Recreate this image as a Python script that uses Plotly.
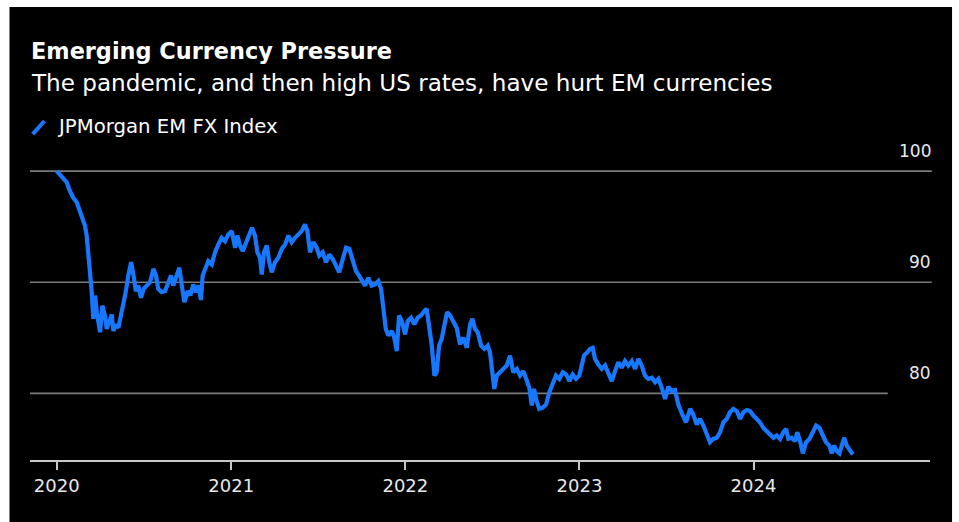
import pandas as pd
import plotly.graph_objects as go

# JPMorgan EM FX Index, sampled roughly weekly; time given as fractional years
year_frac = [
    2020.000, 2020.019, 2020.038, 2020.057, 2020.076, 2020.095, 2020.115, 2020.134,
    2020.153, 2020.162, 2020.172, 2020.181, 2020.191, 2020.201, 2020.210, 2020.220,
    2020.230, 2020.239, 2020.249, 2020.262, 2020.277, 2020.287, 2020.302, 2020.316,
    2020.325, 2020.339, 2020.354, 2020.369, 2020.382, 2020.396, 2020.411, 2020.427,
    2020.440, 2020.454, 2020.468, 2020.484, 2020.499, 2020.517, 2020.536, 2020.555,
    2020.570, 2020.583, 2020.603, 2020.622, 2020.641, 2020.656, 2020.669, 2020.685,
    2020.704, 2020.718, 2020.733, 2020.752, 2020.767, 2020.784, 2020.798, 2020.813,
    2020.828, 2020.838, 2020.851, 2020.870, 2020.890, 2020.909, 2020.928, 2020.947,
    2020.966, 2020.985, 2021.005, 2021.024, 2021.037, 2021.052, 2021.068, 2021.087,
    2021.106, 2021.121, 2021.138, 2021.152, 2021.167, 2021.177, 2021.190, 2021.206,
    2021.220, 2021.234, 2021.253, 2021.272, 2021.292, 2021.311, 2021.330, 2021.349,
    2021.368, 2021.387, 2021.406, 2021.425, 2021.439, 2021.454, 2021.473, 2021.493,
    2021.507, 2021.527, 2021.546, 2021.565, 2021.584, 2021.603, 2021.622, 2021.642,
    2021.661, 2021.680, 2021.699, 2021.718, 2021.731, 2021.751, 2021.770, 2021.789,
    2021.808, 2021.827, 2021.846, 2021.862, 2021.875, 2021.889, 2021.904, 2021.923,
    2021.938, 2021.952, 2021.965, 2021.981, 2022.000, 2022.015, 2022.034, 2022.053,
    2022.072, 2022.091, 2022.110, 2022.124, 2022.137, 2022.153, 2022.168, 2022.181,
    2022.195, 2022.210, 2022.225, 2022.241, 2022.258, 2022.277, 2022.296, 2022.315,
    2022.334, 2022.354, 2022.373, 2022.386, 2022.401, 2022.417, 2022.436, 2022.455,
    2022.474, 2022.487, 2022.497, 2022.512, 2022.526, 2022.545, 2022.564, 2022.583,
    2022.602, 2022.621, 2022.641, 2022.660, 2022.679, 2022.698, 2022.713, 2022.727,
    2022.740, 2022.755, 2022.770, 2022.790, 2022.809, 2022.828, 2022.847, 2022.866,
    2022.885, 2022.905, 2022.924, 2022.943, 2022.962, 2022.981, 2023.000, 2023.014,
    2023.027, 2023.046, 2023.061, 2023.077, 2023.090, 2023.109, 2023.129, 2023.148,
    2023.167, 2023.186, 2023.205, 2023.224, 2023.243, 2023.262, 2023.281, 2023.301,
    2023.320, 2023.339, 2023.358, 2023.377, 2023.396, 2023.416, 2023.435, 2023.454,
    2023.473, 2023.492, 2023.511, 2023.530, 2023.549, 2023.568, 2023.594, 2023.613,
    2023.636, 2023.654, 2023.674, 2023.693, 2023.712, 2023.731, 2023.750, 2023.769,
    2023.789, 2023.808, 2023.827, 2023.846, 2023.865, 2023.884, 2023.904, 2023.923,
    2023.942, 2023.961, 2023.980, 2023.999, 2024.018, 2024.037, 2024.056, 2024.076,
    2024.095, 2024.114, 2024.133, 2024.152, 2024.171, 2024.187, 2024.200, 2024.219,
    2024.238, 2024.251, 2024.267, 2024.283, 2024.302, 2024.321, 2024.340, 2024.359,
    2024.378, 2024.397, 2024.416, 2024.435, 2024.449, 2024.462, 2024.478, 2024.493,
    2024.506, 2024.520, 2024.535, 2024.554, 2024.570,
]

index_value = [
    100.0, 99.7, 99.4, 99.0, 98.2, 97.6, 97.2, 96.3,
    95.5, 95.1, 94.2, 92.7, 90.9, 89.1, 86.7, 88.8,
    87.3, 86.1, 85.5, 87.9, 87.0, 85.8, 86.4, 87.1,
    85.6, 86.2, 85.9, 87.0, 88.2, 89.1, 90.6, 91.8,
    90.7, 89.2, 89.7, 88.6, 89.4, 89.7, 90.0, 91.2,
    90.6, 89.4, 89.1, 89.2, 90.0, 90.6, 89.7, 90.4,
    91.3, 89.7, 88.2, 89.2, 88.8, 89.8, 89.1, 89.7,
    88.4, 90.6, 91.2, 91.9, 91.6, 92.7, 93.4, 94.0,
    93.7, 94.3, 94.6, 93.1, 94.2, 93.3, 92.8, 93.6,
    94.5, 94.9, 94.2, 92.7, 92.2, 90.7, 92.7, 93.3,
    91.8, 90.9, 91.8, 92.2, 93.0, 93.4, 94.2, 93.6,
    94.0, 94.3, 94.6, 95.2, 94.6, 92.7, 93.6, 93.1,
    92.4, 92.7, 91.8, 92.5, 92.1, 91.5, 90.9, 92.1,
    93.1, 93.0, 91.9, 91.0, 90.7, 90.1, 89.7, 90.4,
    89.7, 89.8, 90.1, 89.4, 87.6, 85.8, 85.2, 85.6,
    85.0, 83.8, 87.0, 86.5, 85.3, 86.5, 86.8, 86.2,
    86.8, 87.0, 87.4, 87.6, 86.1, 84.3, 81.6, 81.9,
    84.3, 84.9, 86.1, 87.3, 87.0, 86.5, 85.9, 84.4,
    85.0, 84.1, 86.2, 86.7, 85.8, 85.5, 84.3, 84.0,
    84.3, 83.7, 82.2, 80.4, 81.6, 81.9, 82.3, 82.5,
    83.4, 81.9, 82.2, 81.6, 82.0, 81.1, 80.5, 78.9,
    80.4, 79.3, 78.6, 78.7, 79.0, 80.1, 81.0, 81.6,
    81.3, 81.9, 81.7, 81.1, 81.7, 81.3, 81.6, 82.8,
    83.4, 83.7, 84.0, 84.1, 83.1, 82.6, 82.2, 82.5,
    81.9, 81.1, 82.0, 82.8, 82.3, 82.9, 82.5, 82.9,
    82.2, 83.1, 82.5, 81.6, 81.3, 81.4, 81.0, 81.3,
    80.5, 79.5, 80.6, 80.2, 80.3, 79.0, 78.0, 77.4,
    78.6, 78.1, 77.2, 77.7, 77.1, 76.3, 75.6, 75.9,
    76.0, 76.5, 77.4, 77.7, 78.3, 78.6, 78.4, 77.7,
    78.3, 78.5, 78.4, 78.0, 77.7, 77.4, 76.9, 76.6,
    76.3, 76.0, 76.2, 75.9, 76.5, 76.8, 75.9, 76.0,
    75.7, 76.5, 75.7, 74.6, 75.6, 75.9, 76.5, 77.1,
    76.9, 76.3, 75.6, 75.3, 74.6, 75.3, 74.8, 74.6,
    75.4, 76.0, 75.3, 74.8, 74.5,
]

x_tick_years = [2020, 2021, 2022, 2023, 2024]
y_tick_values = [80, 90, 100]

TITLE = "Emerging Currency Pressure"
SUBTITLE = "The pandemic, and then high US rates, have hurt EM currencies"
SERIES_NAME = "JPMorgan EM FX Index"

LINE_BLUE = "#1778ff"
FONT = "DejaVu Sans, Liberation Sans, Arial, sans-serif"

start = pd.Timestamp("2020-01-01")
dates = [start + pd.Timedelta(days=(yf - 2020.0) * 365.25) for yf in year_frac]

fig = go.Figure()
fig.add_trace(go.Scatter(
    x=dates, y=index_value, mode="lines", name=SERIES_NAME,
    line=dict(color=LINE_BLUE, width=4.2), showlegend=False,
    hoverinfo="skip",
))

shapes = []
# horizontal reference lines with their labels above the right end
annotations = []
for v in y_tick_values:
    x_end = 0.953 if v == 80 else 1.002
    shapes.append(dict(type="line", xref="paper", yref="y", x0=0, x1=x_end, y0=v, y1=v,
                       line=dict(color="#7a7a7a", width=1.6), layer="below"))
    annotations.append(dict(xref="paper", yref="y", x=1.003, y=v, text=str(v),
                            xanchor="right", yanchor="middle", yshift=20, showarrow=False,
                            font=dict(family=FONT, size=17, color="#e8e8e8")))

# header texts
annotations.append(dict(xref="paper", yref="paper", x=-0.001, y=1.362, text=f"<b>{TITLE}</b>",
                        xanchor="left", yanchor="middle", showarrow=False,
                        font=dict(family=FONT, size=22.4, color="#ffffff")))
annotations.append(dict(xref="paper", yref="paper", x=-0.001, y=1.258, text=SUBTITLE,
                        xanchor="left", yanchor="middle", showarrow=False,
                        font=dict(family=FONT, size=23.1, color="#ffffff")))
annotations.append(dict(xref="paper", yref="paper", x=0.028, y=1.111, text=SERIES_NAME,
                        xanchor="left", yanchor="middle", showarrow=False,
                        font=dict(family=FONT, size=19.7, color="#ffffff")))
# legend swatch: short slanted stroke
shapes.append(dict(type="line", xref="paper", yref="paper", x0=0.003, y0=1.086, x1=0.016, y1=1.13,
                   line=dict(color=LINE_BLUE, width=4)))

# white frame strips around the black panel
for x0, x1, y0, y1 in [(-0.04, -0.0228, -0.3, 1.6), (1.0245, 1.04, -0.3, 1.6), (-0.04, 1.04, 1.51, 1.6)]:
    shapes.append(dict(type="rect", xref="paper", yref="paper", x0=x0, x1=x1, y0=y0, y1=y1,
                       fillcolor="#ffffff", line=dict(width=0), layer="above"))

fig.update_layout(
    width=959, height=522,
    margin=dict(l=30, r=29, t=160, b=62),
    paper_bgcolor="#000000", plot_bgcolor="#000000",
    shapes=shapes, annotations=annotations,
    xaxis=dict(
        type="date",
        range=["2019-11-06", "2025-01-05"],
        tickvals=[pd.Timestamp(f"{y}-01-01") for y in x_tick_years],
        ticktext=[str(y) for y in x_tick_years],
        showgrid=False, zeroline=False,
        showline=True, linecolor="#c8c8c8", linewidth=2,
        ticks="outside", ticklen=8, tickwidth=2, tickcolor="#c8c8c8",
        tickfont=dict(family=FONT, size=18, color="#e8e8e8"),
    ),
    yaxis=dict(range=[74.0, 101.0], showgrid=False, zeroline=False,
               showticklabels=False, showline=False, ticks=""),
    font=dict(family=FONT),
)

fig.write_html("out.html")
